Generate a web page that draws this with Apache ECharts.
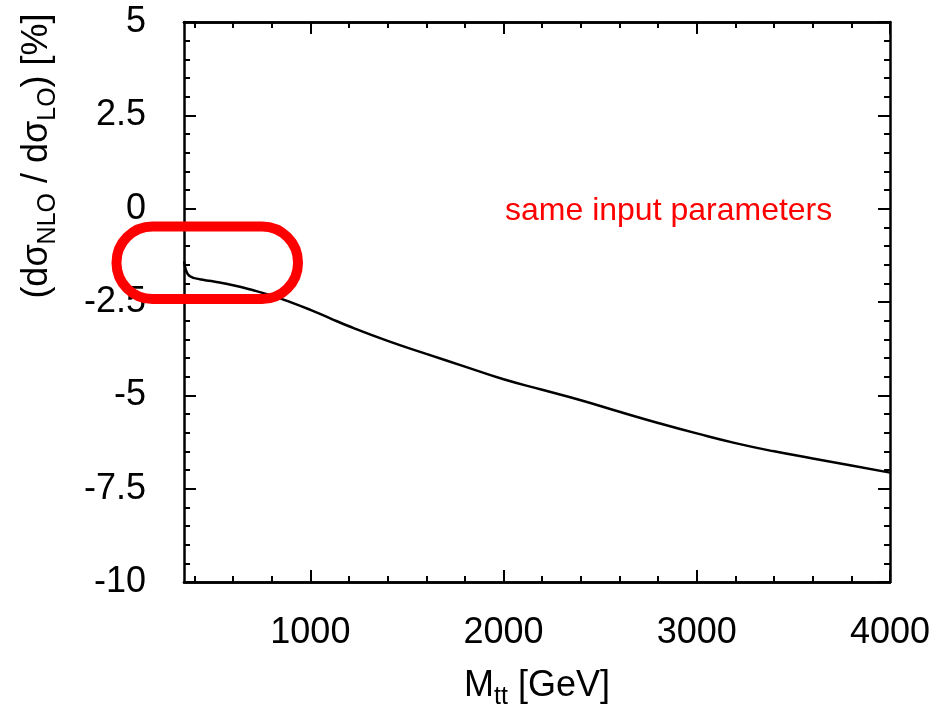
<!DOCTYPE html>
<html><head><meta charset="utf-8">
<script src="https://cdn.jsdelivr.net/npm/echarts@6/dist/echarts.min.js"></script>
<style>html,body{margin:0;padding:0;background:#fff}#c{width:945px;height:715px}</style>
</head><body><div id="c"></div>
<script>
// M_tt values [GeV]
const massGeV = [346.5, 350, 355, 362, 372, 385, 400, 450, 500, 600, 700, 800, 900, 1000, 1100, 1200, 1400, 1600, 1800, 2000, 2200, 2400, 2600, 2800, 3000, 3200, 3400, 3600, 3800, 4000];
// (dsigma_NLO / dsigma_LO) [%]
const ratioPct = [-1.41, -1.52, -1.63, -1.72, -1.79, -1.83, -1.86, -1.91, -1.95, -2.05, -2.18, -2.33, -2.51, -2.71, -2.93, -3.15, -3.54, -3.89, -4.23, -4.57, -4.85, -5.13, -5.44, -5.74, -6.02, -6.28, -6.50, -6.69, -6.88, -7.07];
const xMajorTicks = [1000, 2000, 3000, 4000];
const xMinorTicks = [400, 600, 800, 1000, 1200, 1400, 1600, 1800, 2000, 2200, 2400, 2600, 2800, 3000, 3200, 3400, 3600, 3800, 4000];
const xRange = [346, 4000];
const yRange = [-10, 5];
const yStep = 2.5;
const annotationText = 'same input parameters';

const FONT = "'Liberation Sans', Arial, Helvetica, sans-serif";
const chart = echarts.init(document.getElementById('c'), null, {renderer: 'canvas'});
const frame = {show: true, onZero: false, lineStyle: {color: '#000', width: 2.5}};

function xAx(pos, ticks, len, labels) {
  return {
    type: 'value', position: pos, min: xRange[0], max: xRange[1],
    axisLine: frame,
    axisTick: {show: true, inside: true, length: len, customValues: ticks, lineStyle: {color: '#000', width: 2}},
    axisLabel: labels ? {show: true, customValues: xMajorTicks, margin: 33, color: '#000', fontSize: 36, fontFamily: FONT,
      formatter: v => String(v)} : {show: false},
    splitLine: {show: false}
  };
}
function yAx(pos, labels) {
  return {
    type: 'value', position: pos, min: yRange[0], max: yRange[1], interval: yStep,
    axisLine: frame,
    axisTick: {show: true, inside: true, length: 12, lineStyle: {color: '#000', width: 2}},
    minorTick: {show: true, splitNumber: 5, length: 6, lineStyle: {color: '#000', width: 2}},
    axisLabel: labels ? {show: true, margin: 38, color: '#000', fontSize: 36, fontFamily: FONT} : {show: false},
    splitLine: {show: false}, minorSplitLine: {show: false}
  };
}

const option = {
  backgroundColor: '#fff',
  animation: false,
  grid: {left: 184, top: 22, width: 706, height: 560, containLabel: false},
  xAxis: [
    xAx('bottom', xMajorTicks, 12, true),
    xAx('bottom', xMinorTicks, 6, false),
    xAx('top', xMajorTicks, 12, false),
    xAx('top', xMinorTicks, 6, false)
  ],
  yAxis: [yAx('left', true), yAx('right', false)],
  series: [{
    type: 'line', xAxisIndex: 0, yAxisIndex: 0,
    data: massGeV.map((m, i) => [m, ratioPct[i]]),
    showSymbol: false, smooth: 0.5,
    lineStyle: {color: '#000', width: 2.5}
  }],
  graphic: [
    {
      type: 'text', x: 37, y: 156, rotation: Math.PI / 2,
      style: {
        text: '{a|(dσ}{s|NLO}{a| / dσ}{s|LO}{a|) [%]}',
        align: 'center', verticalAlign: 'middle', fill: '#000',
        rich: {
          a: {fontSize: 36, fontFamily: FONT, fill: '#000', color: '#000'},
          s: {fontSize: 25, fontFamily: FONT, fill: '#000', color: '#000', padding: [22, 0, 0, 0]}
        }
      }
    },
    {
      type: 'text', x: 537, y: 686,
      style: {
        text: '{a|M}{s|tt}{a| [GeV]}',
        align: 'center', verticalAlign: 'middle', fill: '#000',
        rich: {
          a: {fontSize: 36, fontFamily: FONT, fill: '#000', color: '#000'},
          s: {fontSize: 25, fontFamily: FONT, fill: '#000', color: '#000', padding: [22, 0, 0, 0]}
        }
      }
    },
    {
      type: 'text', x: 505, y: 211,
      style: {text: annotationText, fontSize: 32, fontFamily: FONT, fill: '#ff0000', align: 'left', verticalAlign: 'middle'}
    },
    {
      type: 'rect', shape: {x: 116.5, y: 226.5, width: 181.5, height: 72.5, r: 36},
      style: {fill: 'none', stroke: '#ff0000', lineWidth: 10}, z: 100
    }
  ]
};
chart.setOption(option);
</script></body></html>
